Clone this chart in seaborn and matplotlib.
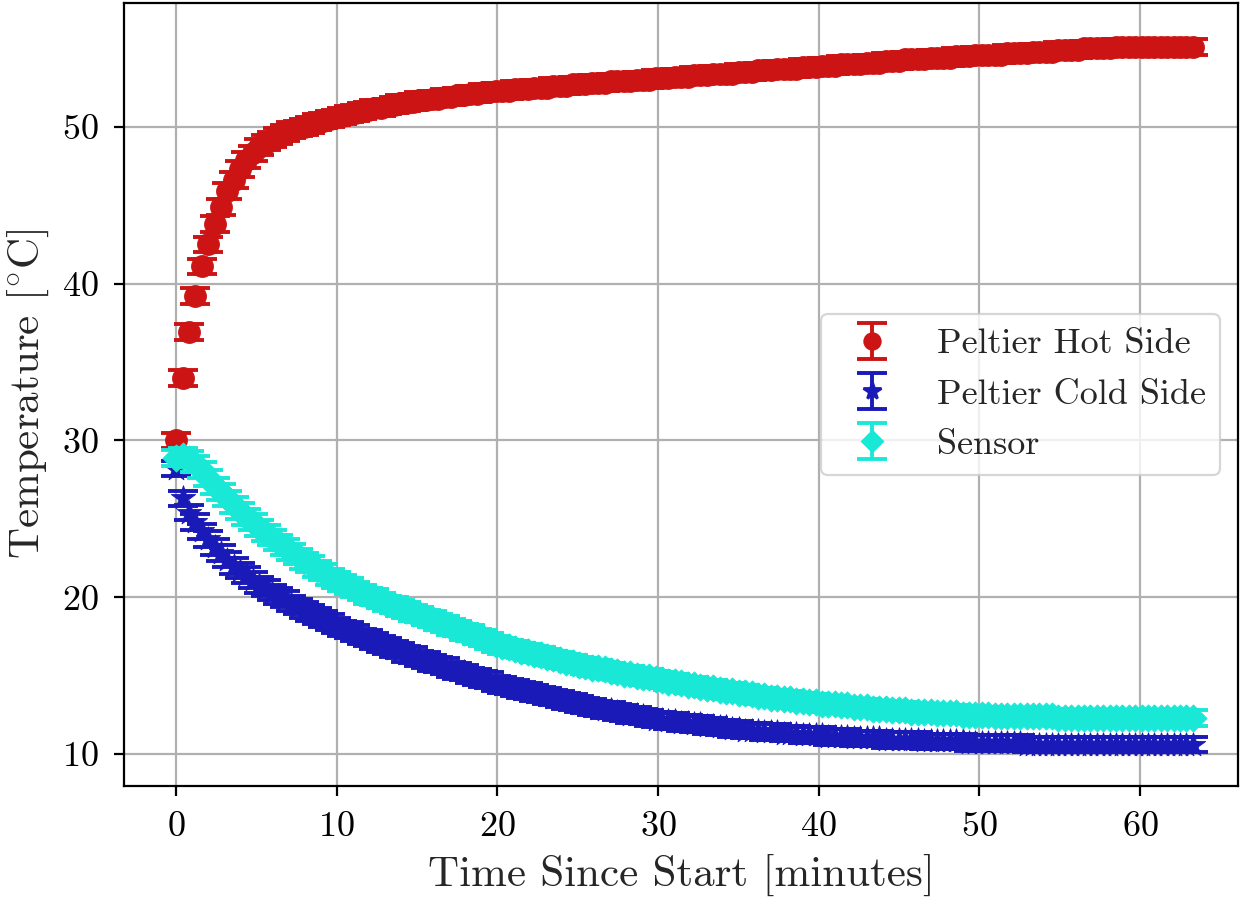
import numpy as np
import matplotlib
matplotlib.use("Agg")
import matplotlib.pyplot as plt
import seaborn as sns
from matplotlib.lines import Line2D
from matplotlib.legend_handler import HandlerTuple

# Logged temperatures, one reading roughly every 0.4 minutes
sample_interval_min = 0.398

hot_side = [
    30.0, 34.0, 36.9, 39.2, 41.1, 42.5, 43.8, 44.9, 45.9, 46.6,
    47.3, 47.9, 48.3, 48.7, 49.0, 49.2, 49.4, 49.6, 49.8, 49.9,
    50.0, 50.1, 50.3, 50.4, 50.5, 50.6, 50.7, 50.8, 50.9, 51.0,
    51.1, 51.2, 51.2, 51.3, 51.4, 51.5, 51.5, 51.6, 51.7, 51.7,
    51.8, 51.8, 51.9, 51.9, 52.0, 52.0, 52.1, 52.1, 52.2, 52.2,
    52.3, 52.3, 52.3, 52.4, 52.4, 52.4, 52.5, 52.5, 52.5, 52.6,
    52.6, 52.6, 52.7, 52.7, 52.7, 52.8, 52.8, 52.8, 52.9, 52.9,
    52.9, 52.9, 53.0, 53.0, 53.0, 53.1, 53.1, 53.1, 53.2, 53.2,
    53.2, 53.3, 53.3, 53.3, 53.4, 53.4, 53.4, 53.4, 53.5, 53.5,
    53.5, 53.6, 53.6, 53.6, 53.7, 53.7, 53.7, 53.7, 53.8, 53.8,
    53.8, 53.9, 53.9, 53.9, 54.0, 54.0, 54.0, 54.0, 54.1, 54.1,
    54.1, 54.2, 54.2, 54.2, 54.3, 54.3, 54.3, 54.3, 54.4, 54.4,
    54.4, 54.4, 54.5, 54.5, 54.5, 54.6, 54.6, 54.6, 54.6, 54.6,
    54.7, 54.7, 54.7, 54.7, 54.8, 54.8, 54.8, 54.8, 54.9, 54.9,
    54.9, 54.9, 55.0, 55.0, 55.0, 55.0, 55.0, 55.1, 55.1, 55.1,
    55.1, 55.1, 55.1, 55.1, 55.1, 55.1, 55.1, 55.1, 55.1, 55.1,
]

cold_side = [
    28.2, 26.3, 25.4, 24.8, 24.2, 23.7, 23.2, 22.8, 22.4, 22.0,
    21.7, 21.4, 21.1, 20.8, 20.6, 20.3, 20.1, 19.9, 19.6, 19.4,
    19.2, 19.0, 18.8, 18.6, 18.4, 18.2, 18.0, 17.9, 17.7, 17.5,
    17.4, 17.2, 17.0, 16.9, 16.7, 16.6, 16.4, 16.3, 16.1, 16.0,
    15.8, 15.7, 15.6, 15.4, 15.3, 15.2, 15.0, 14.9, 14.8, 14.7,
    14.5, 14.4, 14.3, 14.2, 14.1, 14.0, 13.9, 13.8, 13.7, 13.6,
    13.5, 13.4, 13.3, 13.2, 13.1, 13.0, 12.9, 12.8, 12.8, 12.7,
    12.6, 12.5, 12.5, 12.4, 12.3, 12.2, 12.2, 12.1, 12.1, 12.0,
    12.0, 11.9, 11.9, 11.8, 11.8, 11.7, 11.7, 11.6, 11.6, 11.5,
    11.5, 11.5, 11.4, 11.4, 11.4, 11.3, 11.3, 11.3, 11.2, 11.2,
    11.2, 11.2, 11.1, 11.1, 11.1, 11.1, 11.0, 11.0, 11.0, 11.0,
    11.0, 10.9, 10.9, 10.9, 10.9, 10.9, 10.9, 10.8, 10.8, 10.8,
    10.8, 10.8, 10.8, 10.8, 10.7, 10.7, 10.7, 10.7, 10.7, 10.7,
    10.7, 10.7, 10.7, 10.6, 10.6, 10.6, 10.6, 10.6, 10.6, 10.6,
    10.6, 10.6, 10.6, 10.6, 10.6, 10.6, 10.6, 10.6, 10.6, 10.6,
    10.6, 10.6, 10.6, 10.6, 10.6, 10.6, 10.6, 10.6, 10.6, 10.6,
]

sensor = [
    28.9, 29.0, 28.8, 28.5, 28.1, 27.6, 27.1, 26.7, 26.3, 25.9,
    25.5, 25.1, 24.8, 24.4, 24.1, 23.8, 23.5, 23.2, 22.9, 22.6,
    22.3, 22.1, 21.8, 21.6, 21.3, 21.1, 20.9, 20.7, 20.5, 20.3,
    20.1, 20.0, 19.8, 19.6, 19.5, 19.3, 19.2, 19.0, 18.9, 18.7,
    18.6, 18.4, 18.3, 18.1, 18.0, 17.8, 17.7, 17.5, 17.4, 17.2,
    17.0, 16.9, 16.8, 16.7, 16.6, 16.5, 16.4, 16.3, 16.2, 16.1,
    16.0, 15.9, 15.8, 15.7, 15.6, 15.5, 15.5, 15.4, 15.3, 15.2,
    15.1, 15.1, 15.0, 14.9, 14.9, 14.8, 14.7, 14.6, 14.6, 14.5,
    14.4, 14.4, 14.3, 14.2, 14.2, 14.1, 14.0, 14.0, 13.9, 13.9,
    13.8, 13.7, 13.7, 13.6, 13.6, 13.5, 13.5, 13.4, 13.4, 13.3,
    13.3, 13.2, 13.2, 13.2, 13.1, 13.1, 13.0, 13.0, 13.0, 12.9,
    12.9, 12.9, 12.8, 12.8, 12.8, 12.7, 12.7, 12.7, 12.7, 12.6,
    12.6, 12.6, 12.6, 12.5, 12.5, 12.5, 12.5, 12.5, 12.4, 12.4,
    12.4, 12.4, 12.4, 12.4, 12.4, 12.4, 12.4, 12.4, 12.3, 12.3,
    12.3, 12.3, 12.3, 12.3, 12.3, 12.3, 12.3, 12.3, 12.3, 12.3,
    12.3, 12.3, 12.3, 12.3, 12.3, 12.3, 12.3, 12.3, 12.3, 12.3,
]

reading_uncertainty = 0.5  # degrees C, per reading
series_labels = ["Peltier Hot Side", "Peltier Cold Side", "Sensor"]
x_ticks = [0, 10, 20, 30, 40, 50, 60]
y_ticks = [10, 20, 30, 40, 50]

time_min = np.arange(len(hot_side)) * sample_interval_min

sns.set_theme(style="ticks")
plt.rcParams.update({
    "font.family": "serif",
    "font.serif": ["cmr10"],
    "mathtext.fontset": "cm",
    "axes.unicode_minus": False,
    "axes.formatter.use_mathtext": True,
    "axes.edgecolor": "black",
    "axes.linewidth": 0.8,
    "xtick.color": "black",
    "ytick.color": "black",
    "xtick.major.size": 3.5,
    "ytick.major.size": 3.5,
    "xtick.major.width": 0.8,
    "ytick.major.width": 0.8,
})

fig = plt.figure(figsize=(6.21, 4.49), dpi=200)
ax = fig.add_axes([0.0998, 0.1247, 0.897, 0.872])

# colour, marker, scatter size (pt^2), legend marker size (pt)
styles = [
    ("#CC1414", "o", 62, 5.6),
    ("#1A1AB8", "*", 85, 6.5),
    ("#1AE8D6", "D", 48, 5.2),
]
series = [hot_side, cold_side, sensor]

handles = []
for i, (values, (color, marker, size, leg_size)) in enumerate(zip(series, styles)):
    base_z = 2 + i
    err = ax.errorbar(time_min, values, yerr=reading_uncertainty, fmt="none",
                      ecolor=color, elinewidth=1.4, capsize=5.5, capthick=1.4,
                      zorder=base_z)
    sns.scatterplot(x=time_min, y=values, ax=ax, marker=marker, color=color,
                    s=size, edgecolor=color, linewidth=0.3, zorder=base_z + 0.5,
                    legend=False)
    proxy = Line2D([], [], linestyle="none", marker=marker, color=color,
                   markersize=leg_size)
    handles.append((err, proxy))

ax.set_xlim(-3.25, 66.1)
ax.set_ylim(7.96, 57.9)
ax.set_xticks(x_ticks)
ax.set_yticks(y_ticks)
ax.tick_params(axis="both", labelsize=13, direction="out", pad=5.5,
               top=False, right=False)

ax.grid(True, color="#b0b0b0", linewidth=0.8)
ax.set_axisbelow(True)
for spine in ax.spines.values():
    spine.set_visible(True)
    spine.set_color("black")
    spine.set_linewidth(0.8)

ax.set_xlabel("Time Since Start [minutes]", fontsize=15.5, labelpad=4)
ax.set_ylabel(r"Temperature [$^{\circ}$C]", fontsize=15.5, labelpad=4)

leg = ax.legend(handles, series_labels, loc="center right", fontsize=13,
                handler_map={tuple: HandlerTuple(ndivide=1)},
                frameon=True, framealpha=0.8, edgecolor="0.8", fancybox=True)
leg.get_frame().set_linewidth(0.8)

fig.savefig("out.png", dpi=200)
